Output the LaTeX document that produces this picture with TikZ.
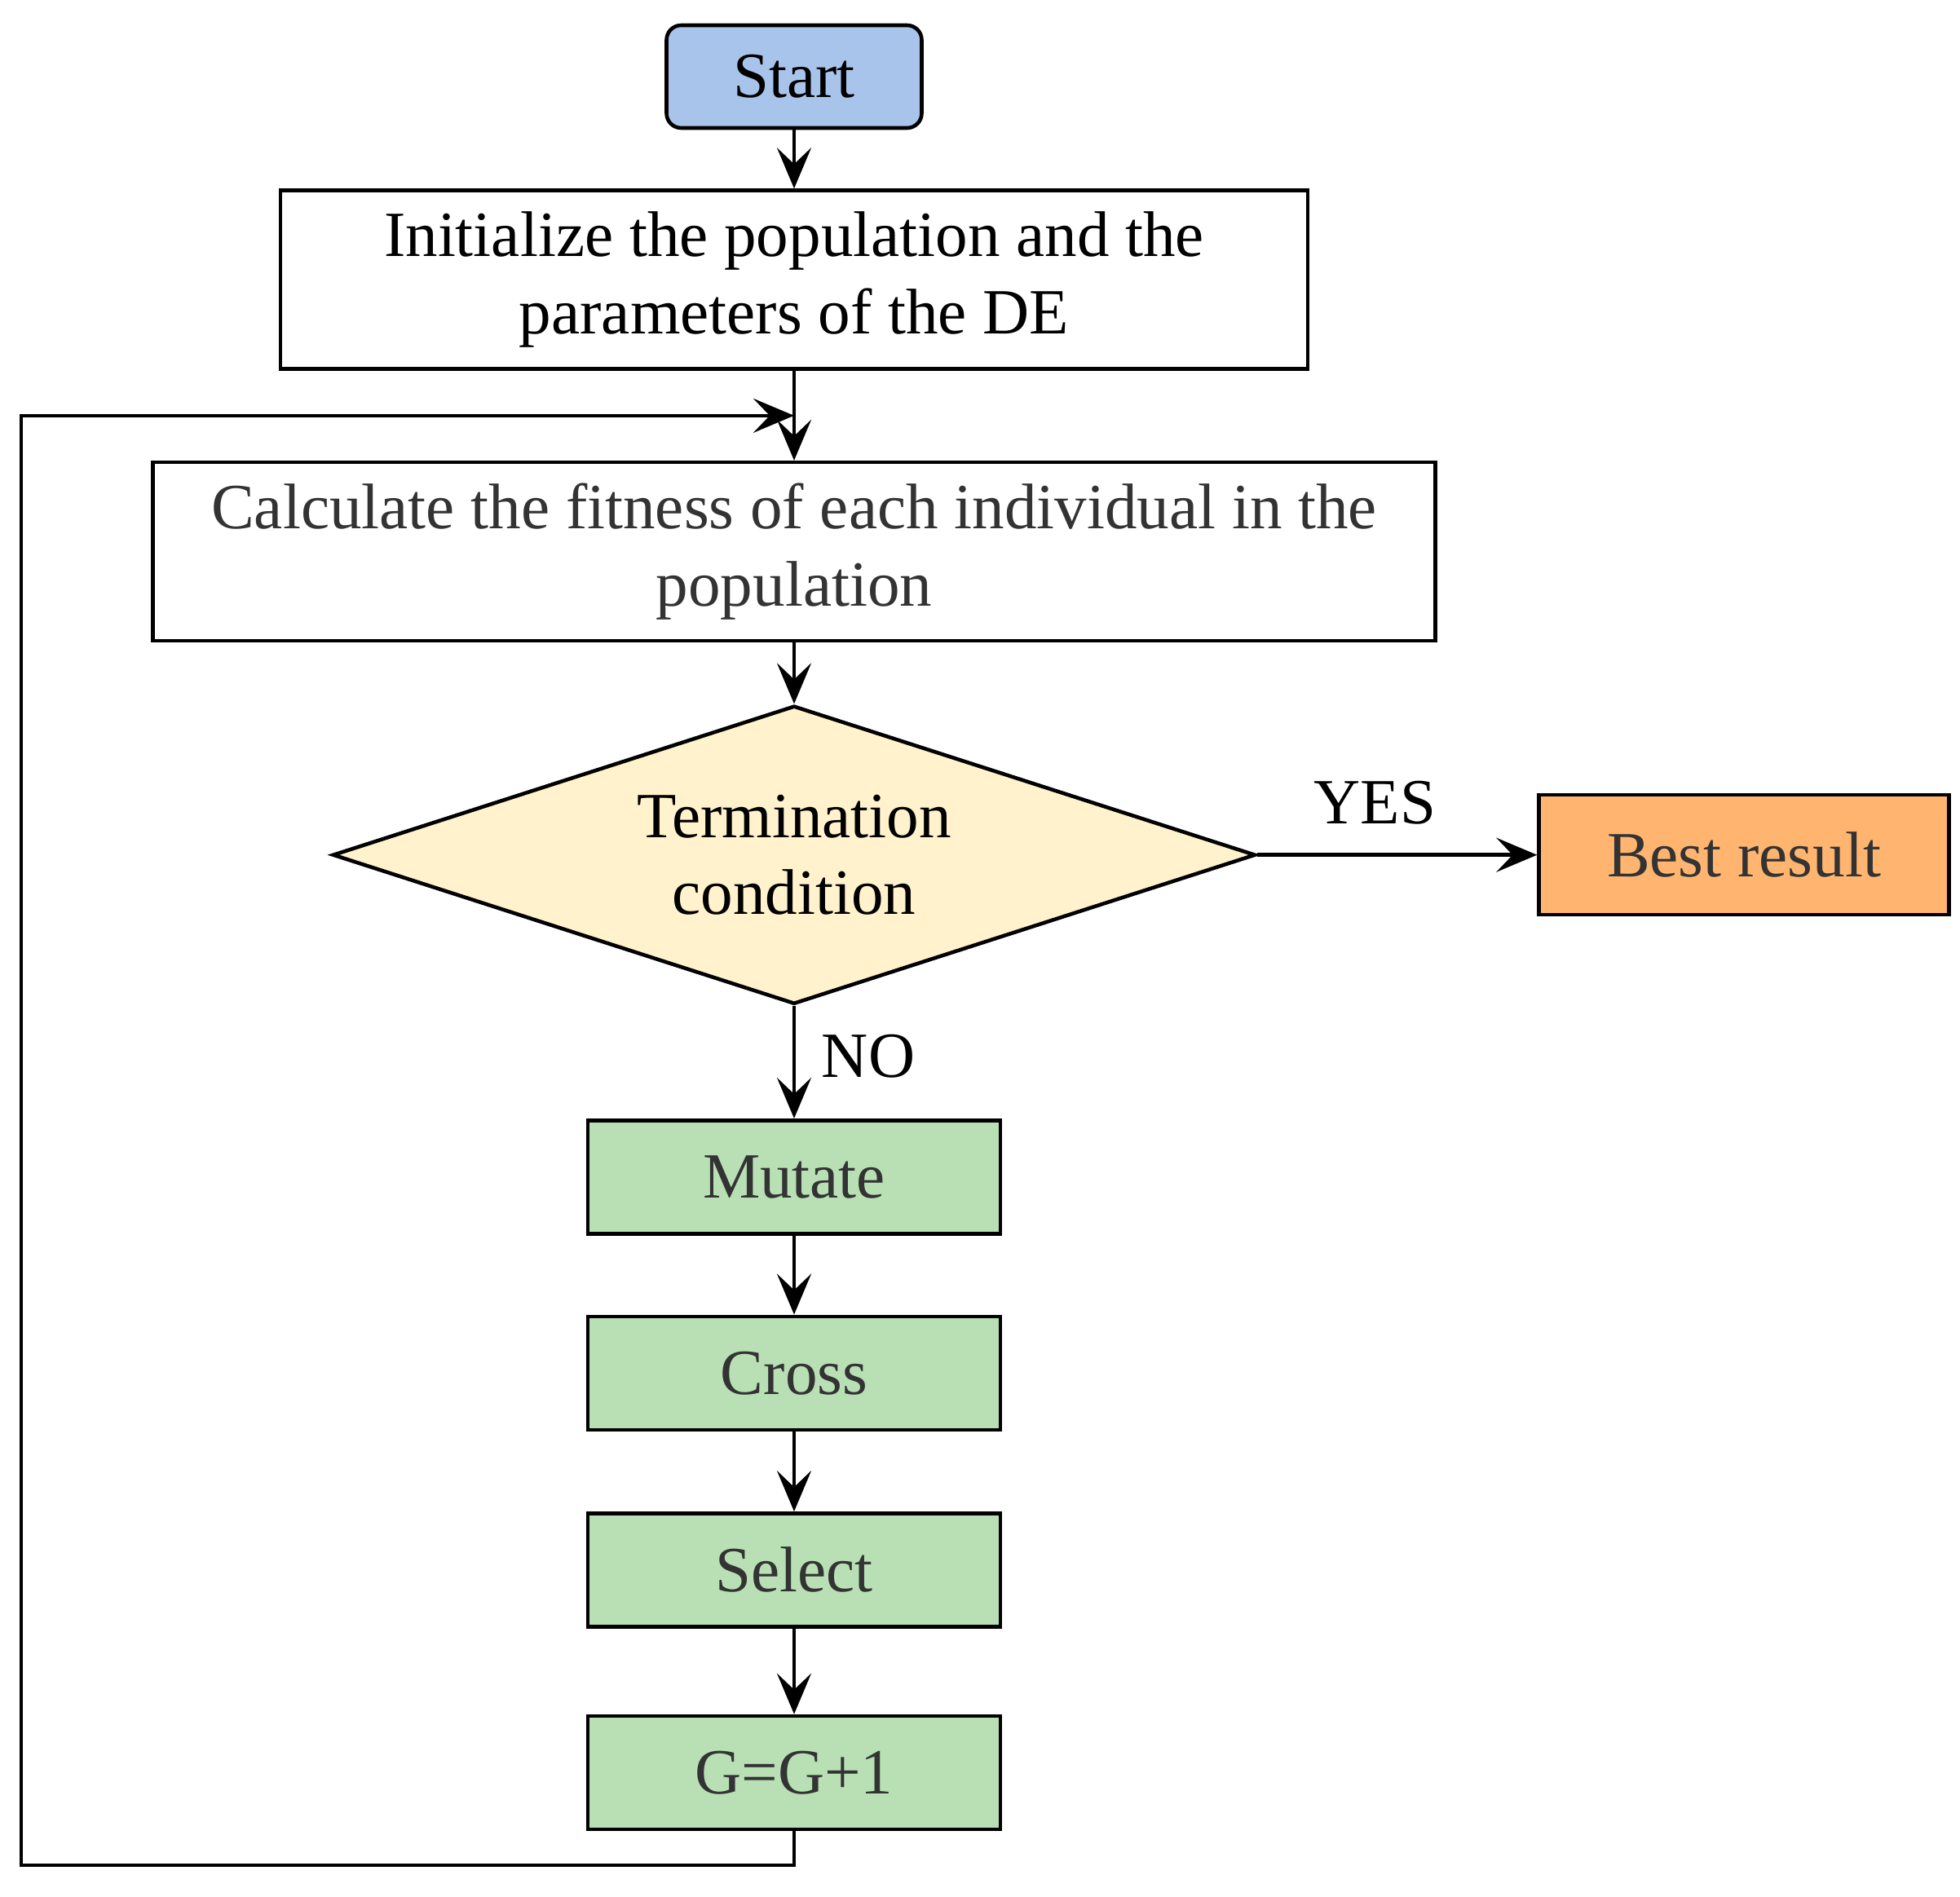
\documentclass[tikz,border=0pt]{standalone}
\usepackage{fontspec}
\setmainfont{Liberation Serif}
\usetikzlibrary{positioning,shapes.geometric,arrows.meta,calc}

\definecolor{startblue}{HTML}{A9C4EB}
\definecolor{condyellow}{HTML}{FFF2CC}
\definecolor{bestorange}{HTML}{FFB570}
\definecolor{stepgreen}{HTML}{B9E0B5}

\tikzset{
  box/.style={draw, line width=1.3pt, align=center, inner sep=2pt,
    font=\fontsize{22.5}{27}\selectfont},
  greenbox/.style={box, fill=stepgreen, text=black!80, minimum width=5.06cm, minimum height=1.39cm},
  lbl/.style={font=\fontsize{22.5}{27}\selectfont},
  arr/.style={-{Stealth[length=5mm,width=4.2mm,inset=2mm]}, line width=1.3pt}
}

\begin{document}
\begin{tikzpicture}
        \useasboundingbox (0,0) rectangle (24.04,-23.27);

        % Draw the steps
        \node[box, rounded corners=0.18cm, fill=startblue, minimum width=3.13cm, minimum height=1.26cm] (st) at (9.74,-0.94) {Start};
        \node[box, below=0.72cm of st, minimum width=12.6cm, minimum height=2.19cm] (init) {Initialize the population and the\\parameters of the DE};
        \node[box, below=1.10cm of init, text=black!80, minimum width=15.73cm, minimum height=2.19cm] (calc) {Calculate the fitness of each individual in the\\population};
        \node[box, diamond, aspect=3.09, inner sep=0pt, below=0.75cm of calc, fill=condyellow, minimum width=11.32cm, minimum height=3.66cm] (term) {Termination\\condition};
        \node[box, right=3.43cm of term, fill=bestorange, text=black!80, minimum width=5.03cm, minimum height=1.47cm] (best) {Best result};
        \node[greenbox, below=1.38cm of term] (mut) {Mutate};
        \node[greenbox, below=0.97cm of mut] (cr) {Cross};
        \node[greenbox, below=0.98cm of cr] (sel) {Select};
        \node[greenbox, below=1.05cm of sel] (gen) {G=G+1};

        \coordinate (j) at ($(init.south)!0.5!(calc.north)$);
        \coordinate (c1) at (0.26,-22.88);

        % Connect the steps with arrows
        \draw[arr] (st) -- (init);
        \draw[arr] (init) -- (calc);
        \draw[arr] (calc) -- (term);
        \draw[arr] (term) -- node[lbl, above, pos=0.42, inner sep=10pt] (yes) {YES} (best);
        \draw[arr] (term) -- node[lbl, right, pos=0.45, inner sep=9pt] (no) {NO} (mut);
        \draw[arr] (mut) -- (cr);
        \draw[arr] (cr) -- (sel);
        \draw[arr] (sel) -- (gen);
        \draw[arr] (gen.south) |- (c1) |- (j);

    \end{tikzpicture}
\end{document}
